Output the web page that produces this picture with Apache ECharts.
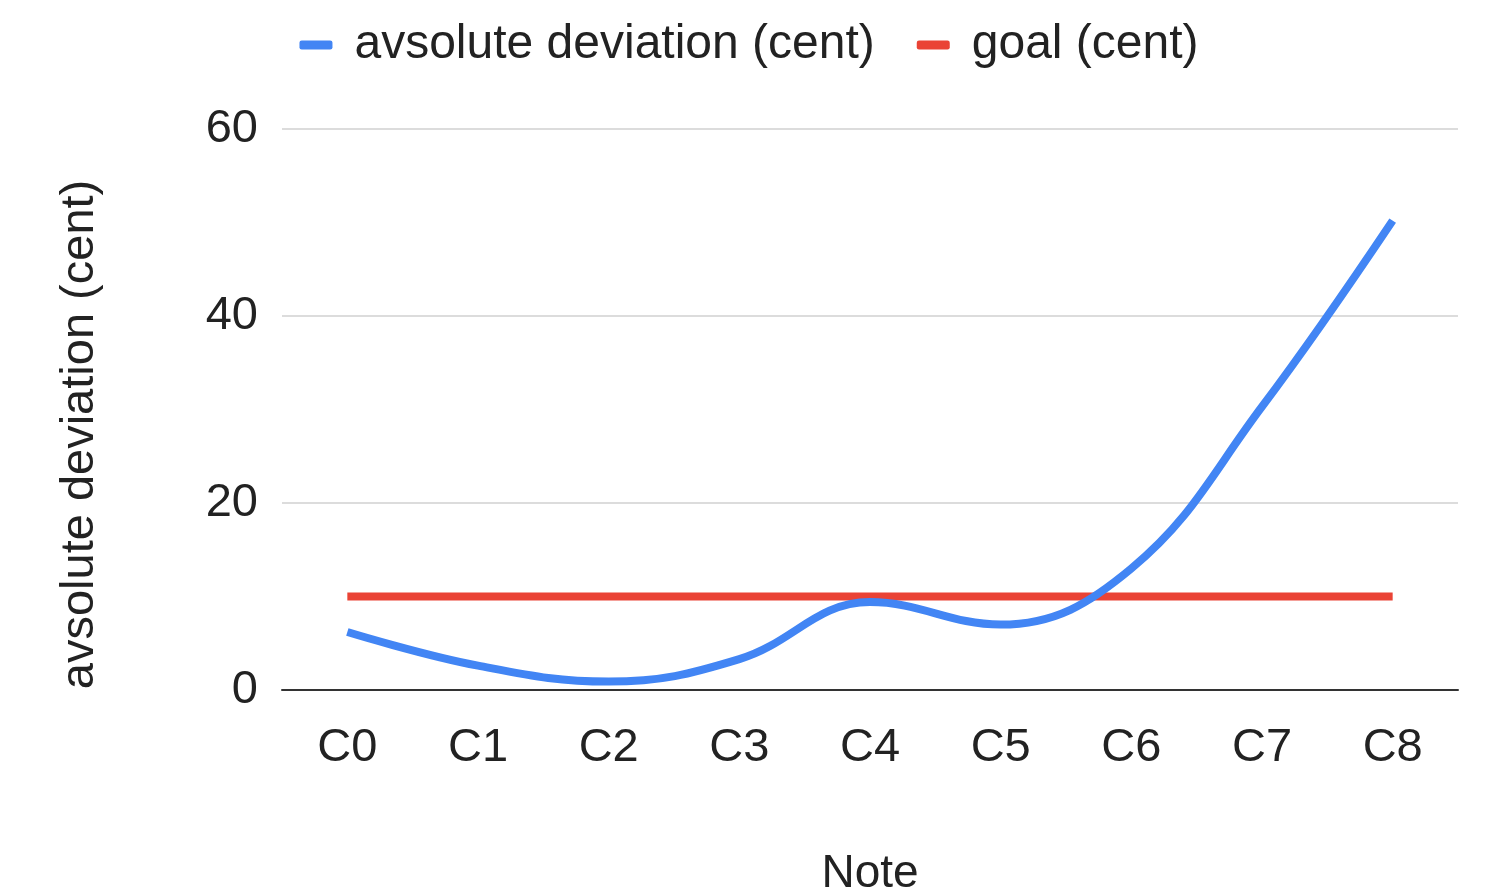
<!DOCTYPE html>
<html>
<head>
<meta charset="utf-8">
<script src="https://cdn.jsdelivr.net/npm/echarts@6/dist/echarts.min.js"></script>
<style>
  html, body { margin: 0; padding: 0; background: #fff; }
  #chart { width: 1498px; height: 892px; }
</style>
</head>
<body>
<div id="chart"></div>
<script>
// Notes along the x axis
const notes = ['C0', 'C1', 'C2', 'C3', 'C4', 'C5', 'C6', 'C7', 'C8'];
// Absolute pitch deviation per note, in cents
const deviation = [6.2, 2.6, 0.9, 3.3, 9.4, 7.0, 13.0, 30.3, 50.2];
// Target tolerance, in cents
const goal = [10, 10, 10, 10, 10, 10, 10, 10, 10];
const yTicks = [0, 20, 40, 60];

const font = 'Liberation Sans, Arial, sans-serif';
const ink = '#222';
const chart = echarts.init(document.getElementById('chart'));
chart.setOption({
  animation: false,
  textStyle: { fontFamily: font },
  legend: {
    top: 16,
    left: 'center',
    itemWidth: 33,
    itemHeight: 9,
    itemGap: 42,
    icon: 'roundRect',
    textStyle: { fontSize: 48, color: ink, fontFamily: font, padding: [0, 0, 0, 17] },
    data: ['avsolute deviation (cent)', 'goal (cent)']
  },
  grid: { left: 282, right: 40, top: 129, bottom: 202, containLabel: false, outerBoundsMode: 'none' },
  xAxis: {
    type: 'category',
    data: notes,
    boundaryGap: true,
    name: 'Note',
    nameLocation: 'middle',
    nameGap: 161,
    nameTextStyle: { fontSize: 46, color: ink, fontFamily: font },
    axisLine: { show: true, lineStyle: { color: '#333', width: 2 } },
    axisTick: { show: false },
    axisLabel: { fontSize: 47, color: ink, margin: 35, fontFamily: font }
  },
  yAxis: {
    type: 'value',
    min: yTicks[0],
    max: yTicks[yTicks.length - 1],
    interval: 20,
    name: 'avsolute deviation (cent)',
    nameLocation: 'middle',
    nameGap: 178,
    nameRotate: 90,
    nameTextStyle: { fontSize: 47, color: ink, fontFamily: font, padding: [0, 50, 0, 0] },
    axisLine: { show: false },
    axisTick: { show: false },
    axisLabel: { fontSize: 47, color: ink, margin: 24, fontFamily: font },
    splitLine: { lineStyle: { color: '#d0d0d0', width: 1.5 } }
  },
  series: [
    {
      name: 'avsolute deviation (cent)',
      type: 'line',
      data: deviation,
      smooth: 0.4,
      showSymbol: false,
      symbol: 'none',
      color: '#4285F4',
      lineStyle: { width: 8, color: '#4285F4', cap: 'butt' },
      z: 3
    },
    {
      name: 'goal (cent)',
      type: 'line',
      data: goal,
      showSymbol: false,
      symbol: 'none',
      color: '#EA4335',
      lineStyle: { width: 8, color: '#EA4335', cap: 'butt' },
      z: 2
    }
  ]
});
</script>
</body>
</html>
